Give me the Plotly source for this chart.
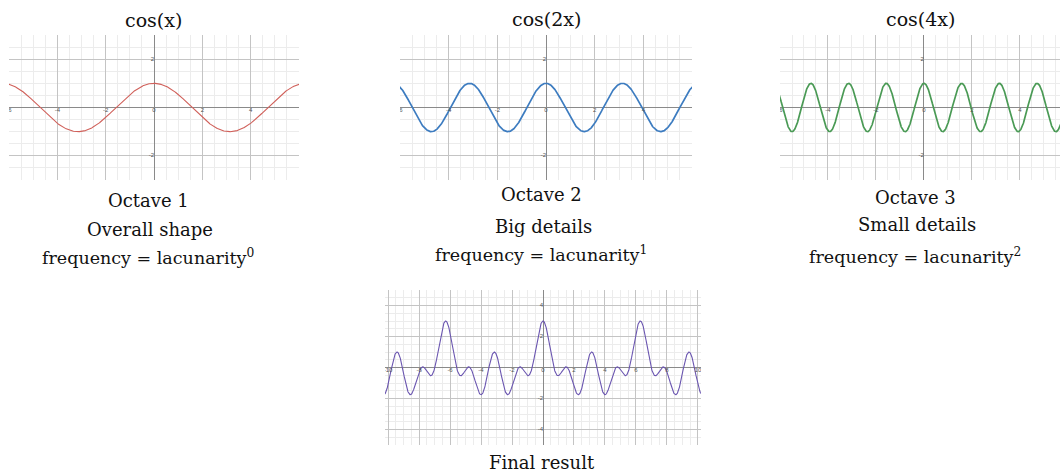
import numpy as np
import plotly.graph_objects as go

W, H = 1060, 475

# ---- data ----
titles = ["cos(x)", "cos(2x)", "cos(4x)"]
frequencies = [1, 2, 4]          # lacunarity = 2, octaves 1..3
amplitudes = [1, 1, 1]
octave_labels = ["Octave 1", "Octave 2", "Octave 3"]
octave_desc = ["Overall shape", "Big details", "Small details"]
freq_labels = ["frequency = lacunarity<sup>0</sup>",
               "frequency = lacunarity<sup>1</sup>",
               "frequency = lacunarity<sup>2</sup>"]
final_label = "Final result"
colors = ["#d0605a", "#3d7cc0", "#4a9a55", "#6a55b0"]

# axis ranges (data units)
octave_xrange = [-6, 6]
octave_yrange = [-3, 3]
panel3_xrange = [-6, 5.67]
final_xrange = [-10.2, 10.2]
final_yrange = [-5, 5]
octave_xticks = [-6, -4, -2, 2, 4, 6]
octave_yticks = [2, -2]
final_xticks = [-10, -8, -6, -4, -2, 2, 4, 6, 8, 10]
final_yticks = [4, 2, -2, -4]

# ---- panel boxes in pixels (left, right, top, bottom) ----
boxes = [(9, 299, 35, 180), (400, 692, 35, 180), (780, 1060, 35, 180), (385, 701, 290, 445)]

fig = go.Figure()

def dom(b):
    l, r, t, bt = b
    return [l / W, r / W], [1 - bt / H, 1 - t / H]

axis_common = dict(
    showgrid=True, gridcolor="#c4c4c4", gridwidth=1,
    zeroline=True, zerolinecolor="#8a8a8a", zerolinewidth=1.3,
    showticklabels=False, ticks="", showline=False, fixedrange=True,
    minor=dict(dtick=0.5, showgrid=True, gridcolor="#ececec", gridwidth=1),
)

xranges = [octave_xrange, octave_xrange, panel3_xrange, final_xrange]
yranges = [octave_yrange, octave_yrange, octave_yrange, final_yrange]

layout = dict(width=W, height=H, margin=dict(l=0, r=0, t=0, b=0),
              paper_bgcolor="white", plot_bgcolor="white", showlegend=False)

for i, b in enumerate(boxes):
    xd, yd = dom(b)
    n = "" if i == 0 else str(i + 1)
    layout["xaxis" + n] = dict(axis_common, domain=xd, range=xranges[i], dtick=2, anchor="y" + n)
    layout["yaxis" + n] = dict(axis_common, domain=yd, range=yranges[i], dtick=2, anchor="x" + n)

fig.update_layout(**layout)

tick_font = dict(size=6, color="#555555", family="Arial")

for i in range(4):
    n = "" if i == 0 else str(i + 1)
    xr = xranges[i]
    x = np.linspace(xr[0] - 0.2, xr[1] + 0.2, 1500)
    if i < 3:
        y = amplitudes[i] * np.cos(frequencies[i] * x)
        xt, yt = octave_xticks, octave_yticks
        wdt = 1.1 if i == 0 else 1.7
    else:
        y = sum(a * np.cos(f * x) for a, f in zip(amplitudes, frequencies))
        xt, yt = final_xticks, final_yticks
        wdt = 1.1
    xt = [v for v in xt if xr[0] - 0.01 <= v <= xr[1] - 0.2]
    fig.add_trace(go.Scatter(x=x, y=y, mode="lines", line=dict(color=colors[i], width=wdt),
                             xaxis="x" + n, yaxis="y" + n, hoverinfo="skip"))
    # tick labels along the axes
    fig.add_trace(go.Scatter(x=xt + [0], y=[0] * len(xt) + [0], mode="text",
                             text=[str(v) for v in xt] + ["0"],
                             textposition="bottom center", textfont=tick_font, cliponaxis=True,
                             xaxis="x" + n, yaxis="y" + n, hoverinfo="skip"))
    fig.add_trace(go.Scatter(x=[0] * len(yt), y=yt, mode="text",
                             text=[str(v) for v in yt],
                             textposition="middle left", textfont=tick_font, cliponaxis=True,
                             xaxis="x" + n, yaxis="y" + n, hoverinfo="skip"))

serif = "DejaVu Serif"
def txt(s, cx, cy, size=18):
    fig.add_annotation(text=s, x=cx / W, y=1 - cy / H, xref="paper", yref="paper",
                       showarrow=False, xanchor="center", yanchor="middle",
                       font=dict(family=serif, size=size, color="#111111"))

title_x = [153, 546, 920]
title_y = [20, 19, 19]
oct_y = [[200, 229, 257], [195, 226, 254], [197, 225, 256]]
for i in range(3):
    txt(titles[i], title_x[i], title_y[i], 19)
    txt(octave_labels[i], title_x[i] - 5, oct_y[i][0])
    txt(octave_desc[i], title_x[i] - 3, oct_y[i][1])
    txt(freq_labels[i], title_x[i] - 5, oct_y[i][2], 17.5)
txt(final_label, 542, 462)

fig.write_html("out.html")
